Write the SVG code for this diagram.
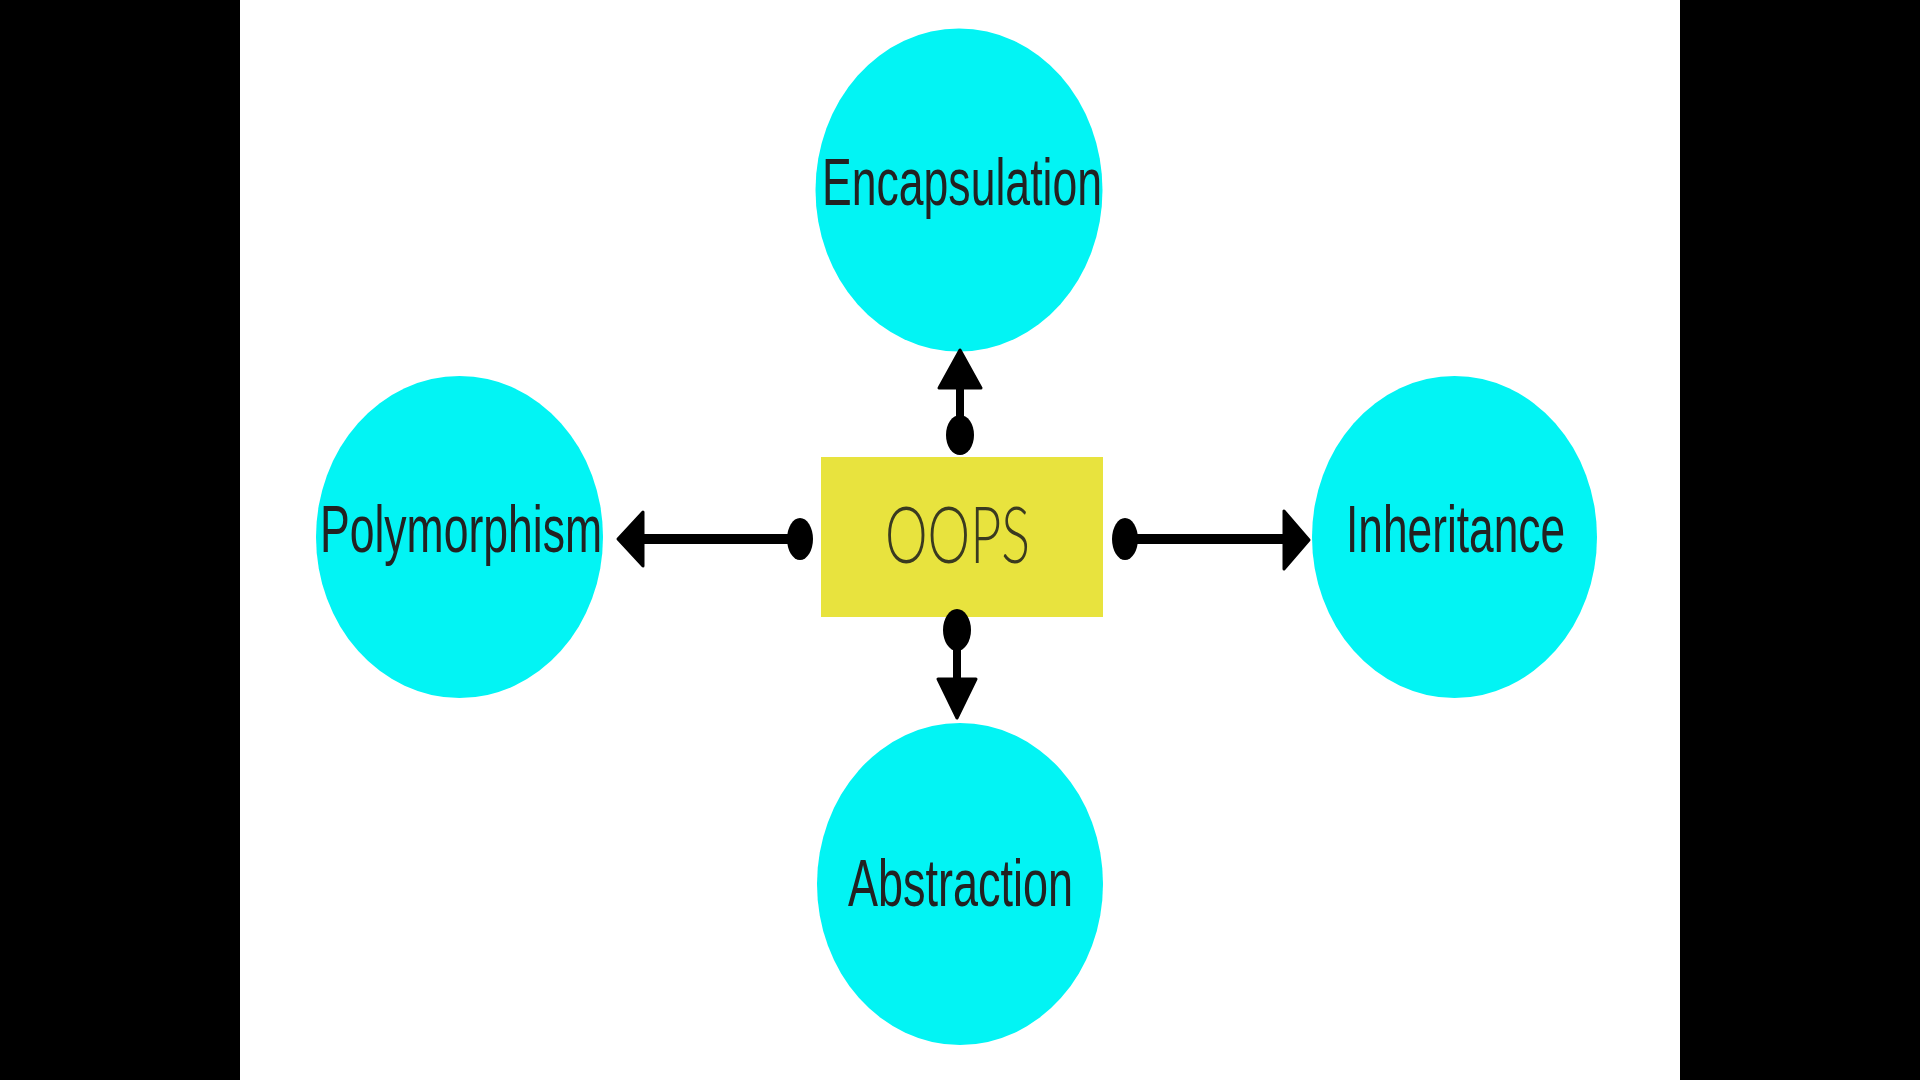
<svg xmlns="http://www.w3.org/2000/svg" width="1920" height="1080" viewBox="0 0 1920 1080">
  <style>
    .bubble { fill: #02F4F4; }
    .lbl { font-family: "Liberation Sans", Arial, sans-serif; font-size: 66px; fill: #222222; text-anchor: middle; }
    .core { fill: #E8E33E; }
    .corelbl { font-family: Lato, "Open Sans", sans-serif; font-weight: 300; font-size: 78px; fill: #3a3a20; text-anchor: middle; }
    .wire { stroke: #000000; fill: none; }
    .ink { fill: #000000; stroke: #000000; stroke-linejoin: round; stroke-width: 3; }
  </style>
  <rect x="0" y="0" width="1920" height="1080" fill="#000000"/>
  <rect x="240" y="0" width="1440" height="1080" fill="#FFFFFF"/>

  <g id="node-encapsulation">
    <ellipse class="bubble" cx="959" cy="190" rx="143.5" ry="161.5"/>
    <text class="lbl" x="962" y="205" textLength="280" lengthAdjust="spacingAndGlyphs">Encapsulation</text>
  </g>
  <g id="node-polymorphism">
    <ellipse class="bubble" cx="459.5" cy="537" rx="143.5" ry="161"/>
    <text class="lbl" x="461" y="552" textLength="282" lengthAdjust="spacingAndGlyphs">Polymorphism</text>
  </g>
  <g id="node-inheritance">
    <ellipse class="bubble" cx="1454.5" cy="537" rx="142.5" ry="161"/>
    <text class="lbl" x="1455.5" y="552" textLength="219" lengthAdjust="spacingAndGlyphs">Inheritance</text>
  </g>
  <g id="node-abstraction">
    <ellipse class="bubble" cx="960" cy="884" rx="143" ry="161"/>
    <text class="lbl" x="960.5" y="906" textLength="225" lengthAdjust="spacingAndGlyphs">Abstraction</text>
  </g>
  <g id="node-oops">
    <rect class="core" x="821" y="457" width="282" height="160"/>
    <text class="corelbl" x="957.5" y="563" textLength="145" lengthAdjust="spacingAndGlyphs">OOPS</text>
  </g>

  <g id="connectors">
    <!-- up -->
    <line class="wire" x1="960" y1="435" x2="960" y2="386" stroke-width="8"/>
    <ellipse cx="960" cy="435" rx="14" ry="20" fill="#000"/>
    <polygon class="ink" points="960,350 939,388 981,388"/>
    <!-- down -->
    <line class="wire" x1="957" y1="630" x2="957" y2="680" stroke-width="8"/>
    <ellipse cx="957" cy="630" rx="14" ry="21" fill="#000"/>
    <polygon class="ink" points="938,679 976,679 957,718"/>
    <!-- left -->
    <line class="wire" x1="800" y1="539" x2="641" y2="539" stroke-width="10"/>
    <ellipse cx="800" cy="539" rx="13" ry="21" fill="#000"/>
    <polygon class="ink" points="618,539 643,512 643,566"/>
    <!-- right -->
    <line class="wire" x1="1125" y1="539" x2="1286" y2="539" stroke-width="10"/>
    <ellipse cx="1125" cy="539" rx="13" ry="21" fill="#000"/>
    <polygon class="ink" points="1284,511 1284,569 1309,540"/>
  </g>
</svg>
